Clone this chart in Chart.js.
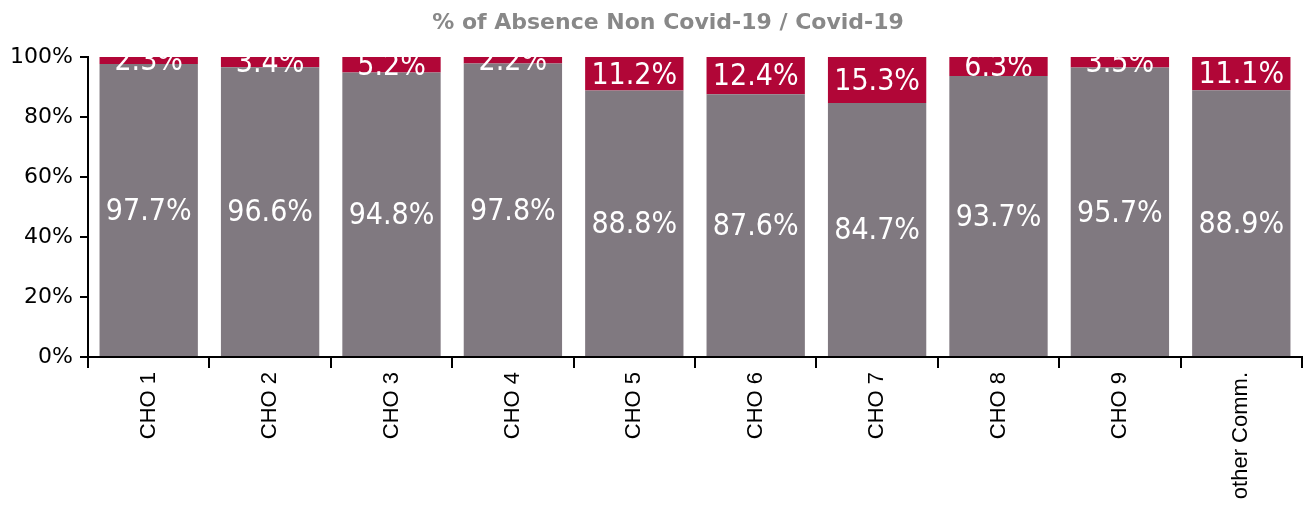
<!DOCTYPE html>
<html>
<head>
<meta charset="utf-8">
<script src="https://cdn.jsdelivr.net/npm/chart.js@4.4.1/dist/chart.umd.min.js"></script>
<style>
    html, body { margin: 0; padding: 0; background: #fff; }
    #chart { display: block; }
</style>
</head>
<body>
<canvas id="chart" width="1310" height="507"></canvas>
<script>
const chartTitle = '% of Absence Non Covid-19 / Covid-19';
const categories = ['CHO 1', 'CHO 2', 'CHO 3', 'CHO 4', 'CHO 5', 'CHO 6', 'CHO 7', 'CHO 8', 'CHO 9', 'other Comm.'];
const nonCovid = [97.7, 96.6, 94.8, 97.8, 88.8, 87.6, 84.7, 93.7, 95.7, 88.9];
const covid = [2.3, 3.4, 5.2, 2.2, 11.2, 12.4, 15.3, 6.3, 3.5, 11.1];
const yTicks = [0, 20, 40, 60, 80, 100];

// 100% stacked: each column is scaled to its own total
function share(values, i) {
    return values[i] / (nonCovid[i] + covid[i]) * 100;
}

const barLabels = {
    id: 'barLabels',
    afterDatasetsDraw(chart) {
        const ctx = chart.ctx;
        const area = chart.chartArea;
        ctx.save();
        ctx.beginPath();
        ctx.rect(area.left, area.top, area.right - area.left, area.bottom - area.top);
        ctx.clip();
        ctx.fillStyle = '#ffffff';
        ctx.font = '30px "DejaVu Sans Condensed", "DejaVu Sans", sans-serif';
        ctx.textAlign = 'center';
        ctx.textBaseline = 'middle';
        chart.data.datasets.forEach((ds, d) => {
            chart.getDatasetMeta(d).data.forEach((bar, i) => {
                const y = (bar.y + bar.base) / 2;
                ctx.fillText(ds.raw[i].toFixed(1) + '%', bar.x, y + 2);
            });
        });
        ctx.restore();
    }
};

// title sits a bit left of the plot centre in the original
const topTitle = {
    id: 'topTitle',
    afterDraw(chart) {
        const ctx = chart.ctx;
        ctx.save();
        ctx.fillStyle = '#888888';
        ctx.font = 'bold 22px "DejaVu Sans", Verdana, sans-serif';
        ctx.textAlign = 'center';
        ctx.textBaseline = 'middle';
        ctx.fillText(chartTitle, chart.width / 2 + 13, 23);
        ctx.restore();
    }
};

new Chart(document.getElementById('chart'), {
    type: 'bar',
    data: {
        labels: categories,
        datasets: [
            {
                label: 'Non Covid-19',
                raw: nonCovid,
                data: nonCovid.map((v, i) => share(nonCovid, i)),
                backgroundColor: '#807980'
            },
            {
                label: 'Covid-19',
                raw: covid,
                data: covid.map((v, i) => share(covid, i)),
                backgroundColor: '#b10637'
            }
        ]
    },
    options: {
        responsive: false,
        animation: false,
        layout: {padding: {top: 57, right: 8, left: 0, bottom: 0}},
        datasets: {bar: {barPercentage: 1, categoryPercentage: 0.81}},
        plugins: {
            legend: {display: false},
            tooltip: {enabled: false},
            title: {display: false}
        },
        scales: {
            x: {
                stacked: true,
                border: {color: '#000', width: 2},
                grid: {offset: true, drawOnChartArea: false, color: '#000', lineWidth: 2, tickLength: 11},
                ticks: {
                    color: '#000',
                    maxRotation: 90,
                    minRotation: 90,
                    padding: 4,
                    font: {family: '"Liberation Sans", Arial, sans-serif', size: 22}
                },
                afterFit(scale) { scale.height = 150; }
            },
            y: {
                stacked: true,
                min: 0,
                max: 100,
                border: {color: '#000', width: 2},
                grid: {drawOnChartArea: false, color: '#000', lineWidth: 2, tickLength: 8},
                afterBuildTicks(scale) { scale.ticks = yTicks.map(v => ({value: v})); },
                ticks: {
                    color: '#000',
                    padding: 7,
                    font: {family: '"DejaVu Sans", Verdana, sans-serif', size: 22},
                    callback: v => v + '%'
                },
                afterFit(scale) { scale.width = 88; }
            }
        }
    },
    plugins: [barLabels, topTitle]
});
</script>
</body>
</html>
